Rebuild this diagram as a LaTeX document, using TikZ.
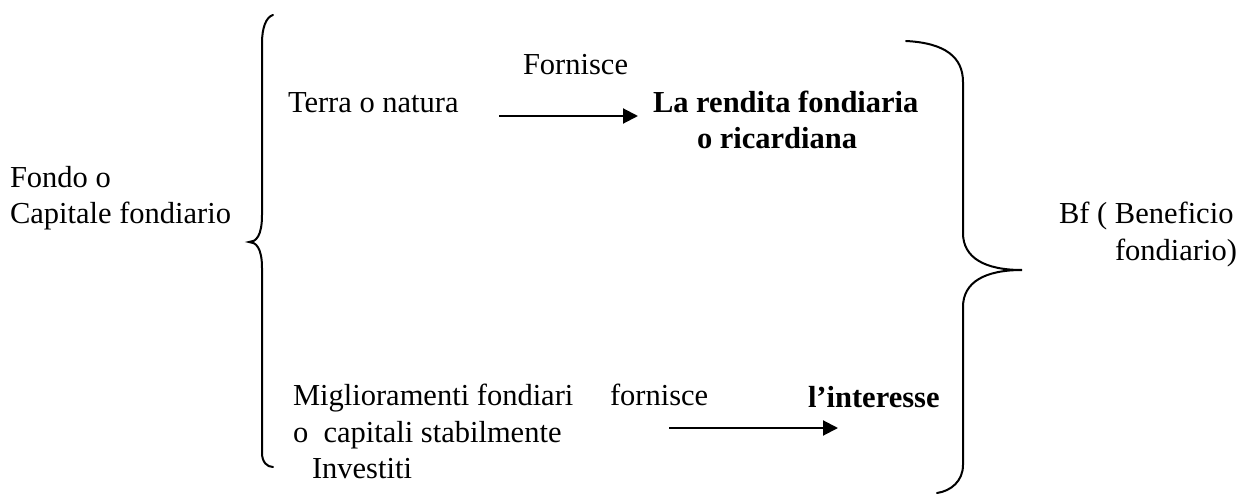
\documentclass[tikz,border=0pt]{standalone}
\usepackage{fontspec}
\setmainfont{Liberation Serif}
\usetikzlibrary{arrows.meta}
\begin{document}
\begin{tikzpicture}[x=1pt,y=-1pt,
  txt/.style={anchor=base west,inner sep=0pt,outer sep=0pt,font=\fontsize{30.5}{36}\selectfont},
  btxt/.style={txt,font=\fontsize{30.5}{36}\selectfont\bfseries},
  brace/.style={line width=2pt,line cap=round},
  conn/.style={line width=2pt,-{Triangle[length=15pt,width=15pt]}}]
\useasboundingbox (0,0) rectangle (1243,495);
% left texts
\node[txt] (fondo) at (10,187) {Fondo o};
\node[txt] (capitale) at (10,223) {Capitale fondiario};
% top row
\node[txt] (terra) at (288,112) {Terra o natura};
\node[txt] (fornisce1) at (523,75) {Fornisce};
\node[btxt] (rendita) at (653,112) {La rendita fondiaria};
\node[btxt] (ricardiana) at (697,148) {o ricardiana};
% bottom row
\node[txt] (miglior) at (293,405) {Miglioramenti fondiari};
\node[txt] (capitali) at (293,442) {o\ \ capitali stabilmente};
\node[txt] (investiti) at (312,478) {Investiti};
\node[txt] (fornisce2) at (610,405) {fornisce};
\node[btxt] (interesse) at (808,407) {l’interesse};
% right texts
\node[txt] (bf) at (1059,223) {Bf ( Beneficio};
\node[txt] (fondiario) at (1115,260) {fondiario)};
% arrows
\coordinate (a1s) at (499,116);
\coordinate (a1e) at (638,116);
\coordinate (a2s) at (669,428);
\coordinate (a2e) at (838,428);
\draw[conn] (a1s) -- (a1e);
\draw[conn] (a2s) -- (a2e);
% left brace
\draw[brace] (273,15) .. controls (266,17) and (262,28) .. (262,43)
  -- (262,215) .. controls (262,236) and (256,242) .. (249,242)
  .. controls (256,242) and (262,248) .. (262,268)
  -- (262,453) .. controls (262,462) and (267,467) .. (273,467);
% right brace
\draw[brace] (906,41) .. controls (945,43) and (963,57) .. (963,82)
  -- (963,233) .. controls (963,258) and (985,270) .. (1022,270)
  .. controls (985,270) and (963,282) .. (963,307)
  -- (963,465) .. controls (963,481) and (951,491) .. (937,493);
\end{tikzpicture}
\end{document}
